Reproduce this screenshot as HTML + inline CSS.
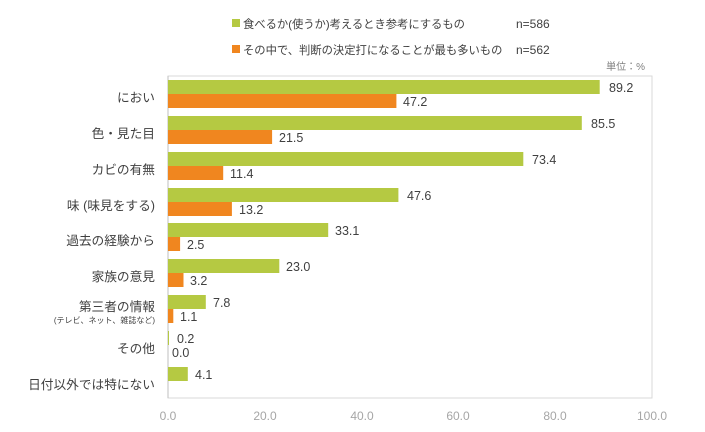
<!DOCTYPE html>
<html><head><meta charset="utf-8"><style>
body{margin:0;background:#fff;}
svg text{font-family:"Liberation Sans","Noto Sans CJK JP",sans-serif;}
</style></head><body>
<svg width="705" height="427" xmlns="http://www.w3.org/2000/svg">
<rect width="705" height="427" fill="#fff"/>
<rect x="232" y="19" width="8" height="8" fill="#b5c942"/>
<text x="243" y="28" font-size="11.3" fill="#404040">食べるか(使うか)考えるとき参考にするもの</text>
<text x="516" y="28" font-size="12" fill="#404040">n=586</text>
<rect x="232" y="45" width="8" height="8" fill="#f0861f"/>
<text x="243" y="54" font-size="11.3" fill="#404040">その中で、判断の決定打になることが最も多いもの</text>
<text x="516" y="54" font-size="12" fill="#404040">n=562</text>
<text x="645" y="70" font-size="10" fill="#808080" text-anchor="end">単位：%</text>
<rect x="168" y="76" width="484" height="322" fill="none" stroke="#d9d9d9"/>
<line x1="168" y1="76" x2="168" y2="398" stroke="#bfbfbf"/>
<g font-size="12.7" fill="#404040" text-anchor="end">
<text x="155" y="102">におい</text>
<text x="155" y="138">色・見た目</text>
<text x="155" y="174">カビの有無</text>
<text x="155" y="210">味 (味見をする)</text>
<text x="155" y="245">過去の経験から</text>
<text x="155" y="281">家族の意見</text>
<text x="155" y="311">第三者の情報</text>
<text x="155" y="323" font-size="8">(テレビ、ネット、雑誌など)</text>
<text x="155" y="353">その他</text>
<text x="155" y="389">日付以外では特にない</text>
</g>
<g fill="#b5c942">
<rect x="168" y="80" width="431.7" height="14"/>
<rect x="168" y="116" width="413.8" height="14"/>
<rect x="168" y="152" width="355.3" height="14"/>
<rect x="168" y="188" width="230.4" height="14"/>
<rect x="168" y="223" width="160.2" height="14"/>
<rect x="168" y="259" width="111.3" height="14"/>
<rect x="168" y="295" width="37.8" height="14"/>
<rect x="168" y="331" width="1" height="14"/>
<rect x="168" y="367" width="19.8" height="14"/>
</g>
<g fill="#f0861f">
<rect x="168" y="94" width="228.4" height="14"/>
<rect x="168" y="130" width="104.1" height="14"/>
<rect x="168" y="166" width="55.2" height="14"/>
<rect x="168" y="202" width="63.9" height="14"/>
<rect x="168" y="237" width="12.1" height="14"/>
<rect x="168" y="273" width="15.5" height="14"/>
<rect x="168" y="309" width="5.3" height="14"/>
</g>
<g font-size="12.5" fill="#404040">
<text x="609" y="92">89.2</text><text x="403" y="106">47.2</text>
<text x="591" y="128">85.5</text><text x="279" y="142">21.5</text>
<text x="532" y="164">73.4</text><text x="230" y="178">11.4</text>
<text x="407" y="200">47.6</text><text x="239" y="214">13.2</text>
<text x="335" y="235">33.1</text><text x="187" y="249">2.5</text>
<text x="286" y="271">23.0</text><text x="190" y="285">3.2</text>
<text x="213" y="307">7.8</text><text x="180" y="321">1.1</text>
<text x="177" y="343">0.2</text><text x="172" y="357">0.0</text>
<text x="195" y="379">4.1</text>
</g>
<g font-size="12" fill="#a6a6a6" text-anchor="middle">
<text x="168" y="420">0.0</text><text x="265" y="420">20.0</text><text x="362" y="420">40.0</text>
<text x="458" y="420">60.0</text><text x="555" y="420">80.0</text><text x="652" y="420">100.0</text>
</g>
</svg>
</body></html>
